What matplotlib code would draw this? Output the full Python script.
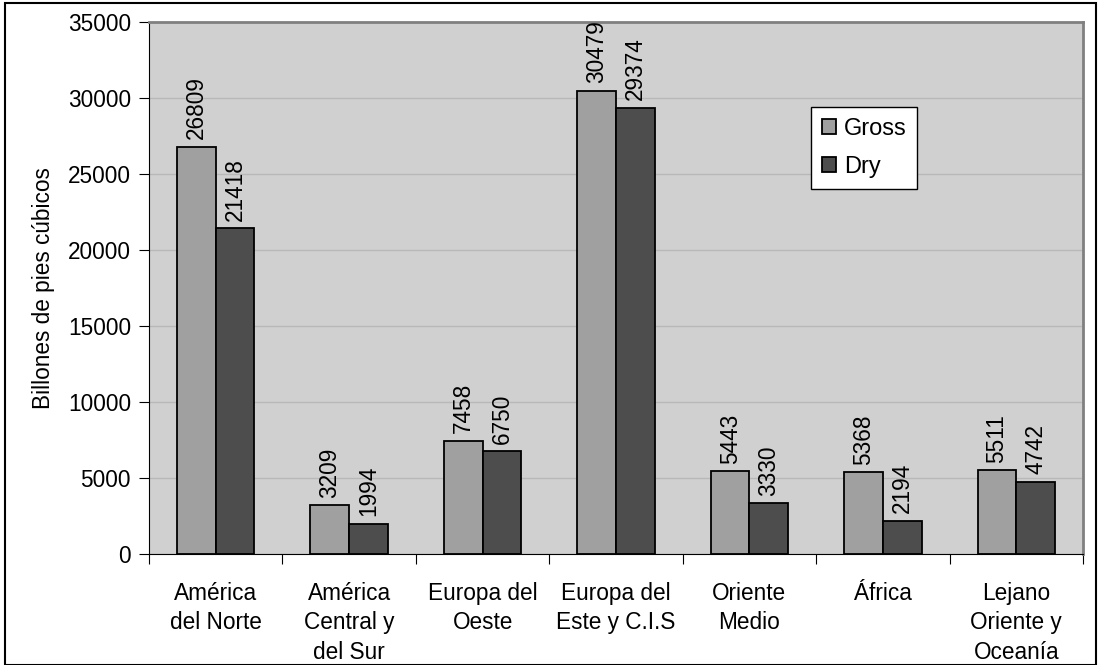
import matplotlib
matplotlib.use("Agg")
import matplotlib.pyplot as plt
from matplotlib.patches import Rectangle
import numpy as np

plt.rcParams["font.family"] = ["Liberation Sans", "DejaVu Sans"]

regions = [
    "América\ndel Norte",
    "América\nCentral y\ndel Sur",
    "Europa del\nOeste",
    "Europa del\nEste y C.I.S",
    "Oriente\nMedio",
    "África",
    "Lejano\nOriente y\nOceanía",
]
gross = [26809, 3209, 7458, 30479, 5443, 5368, 5511]
dry = [21418, 1994, 6750, 29374, 3330, 2194, 4742]
yticks = [0, 5000, 10000, 15000, 20000, 25000, 30000, 35000]

PLOT_BG = "#d0d0d0"
GROSS_C = "#a0a0a0"
DRY_C = "#4d4d4d"
GRID = "#b8b8b8"
FS = 16.3

fig = plt.figure(figsize=(10.99, 6.65), dpi=100)
fig.set_facecolor("white")
ax = fig.add_axes([149 / 1099, 1 - 554 / 665, (1083 - 149) / 1099, (554 - 22) / 665])
ax.set_facecolor(PLOT_BG)

x = np.arange(len(regions)) + 0.5
w = 0.29
b1 = ax.bar(x - w / 2, gross, w, color=GROSS_C, edgecolor="black", linewidth=1.3, label="Gross", zorder=3)
b2 = ax.bar(x + w / 2, dry, w, color=DRY_C, edgecolor="black", linewidth=1.3, label="Dry", zorder=3)

for bars, vals in ((b1, gross), (b2, dry)):
    for b, v in zip(bars, vals):
        ax.text(b.get_x() + b.get_width() / 2, v + 500, str(v), rotation=90,
                ha="center", va="bottom", fontsize=FS, color="black")

ax.set_xlim(0, len(regions))
ax.set_ylim(0, 35000)
ax.set_yticks(yticks)
ax.set_yticklabels([str(t) for t in yticks], fontsize=FS)
ax.yaxis.grid(True, color=GRID, lw=1, zorder=0)
ax.set_axisbelow(True)

ax.set_xticks(np.arange(len(regions) + 1))
ax.set_xticklabels([])
ax.set_xticks(x, minor=True)
ax.set_xticklabels(regions, minor=True, fontsize=FS, linespacing=1.36)
ax.tick_params(axis="x", which="major", direction="out", length=7, color="black")
ax.tick_params(axis="x", which="minor", length=0, pad=20)
ax.tick_params(axis="y", direction="out", length=7, color="black", pad=6)

ax.spines["left"].set_color("black")
ax.spines["bottom"].set_color("black")
ax.spines["top"].set_color("#808080")
ax.spines["right"].set_color("#808080")
ax.spines["top"].set_linewidth(2)
ax.spines["right"].set_linewidth(2)

ax.set_ylabel("Billones de pies cúbicos", fontsize=FS, labelpad=9)

leg = ax.legend(loc="upper left", bbox_to_anchor=((811 - 149) / 934, (554 - 107) / 532),
                fontsize=17, frameon=True, fancybox=False, edgecolor="black",
                facecolor="white", framealpha=1, handlelength=0.6, handleheight=0.6,
                handletextpad=0.35, borderpad=0.45, labelspacing=0.7, borderaxespad=0)
leg.get_frame().set_linewidth(1)

fig.patches.append(Rectangle((5 / 1099, 0), 1091 / 1099, 1 - 3 / 665, transform=fig.transFigure,
                             fill=False, edgecolor="black", lw=1.5))

fig.savefig("out.png", dpi=100, facecolor="white")
